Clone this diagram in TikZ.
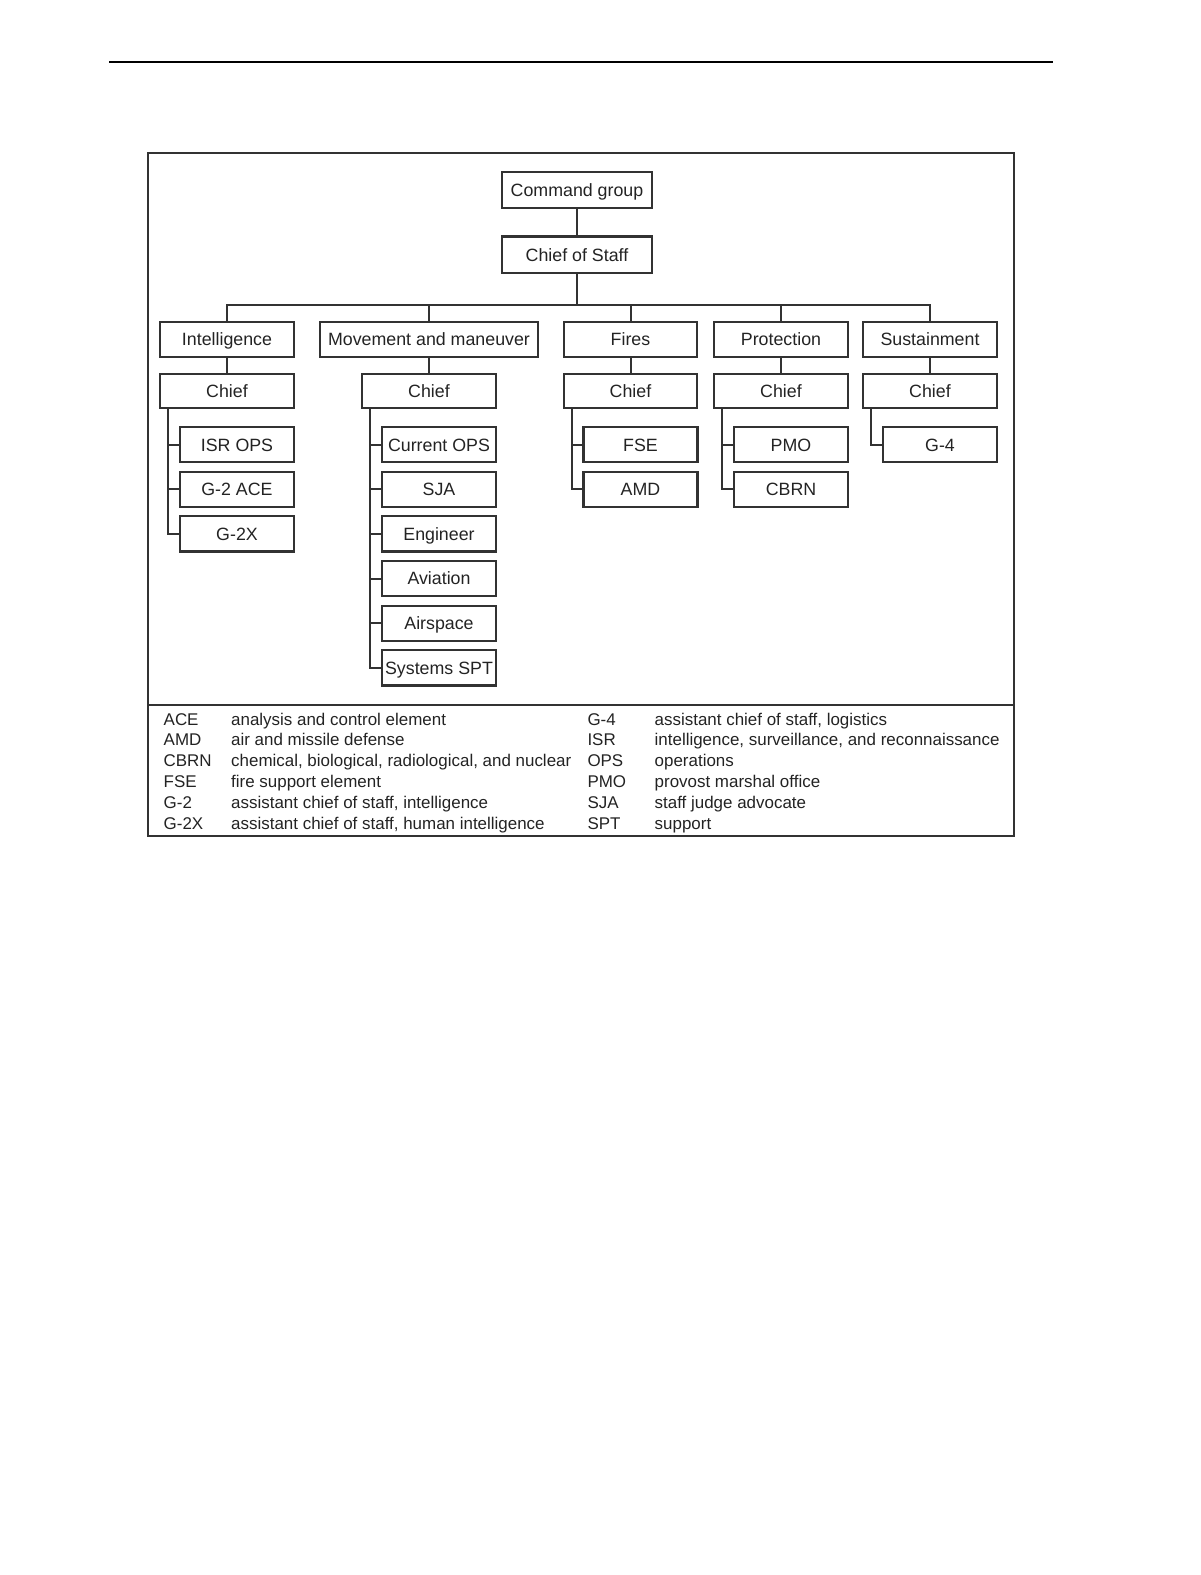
\documentclass[tikz,border=0pt]{standalone}
\usepackage{fontspec}
\setmainfont{Liberation Sans}
\usetikzlibrary{positioning}
\definecolor{boxline}{RGB}{50,50,50}
\definecolor{boxtext}{RGB}{35,35,35}

\begin{document}
\begin{tikzpicture}[x=1pt,y=-1pt,
  every node/.style={font=\fontsize{17.8}{20}\selectfont,text=boxtext},
  unit/.style={draw=boxline,line width=2.2pt,inner sep=0pt,outer sep=0pt,
    text height=12.8pt,text depth=0pt,
    minimum width=133.5pt,minimum height=34.6pt},
  sub/.style={unit,minimum width=114pt,minimum height=35.2pt},
  link/.style={draw=boxline,line width=2pt},
  abbr/.style={anchor=base west,inner sep=0pt,font=\fontsize{16.95}{20}\selectfont}]
  \useasboundingbox (0,0) rectangle (1200,1575);

  % Page rule and frame
  \draw[line width=2pt] (109,62) -- (1053,62);
  \draw[boxline,line width=2pt] (148.3,152.7) rectangle (1013.5,835.7);
  \draw[boxline,line width=2pt] (148.3,705) -- (1013.5,705);

  % Top of the chart
  \node[unit,minimum width=150.4pt,minimum height=36.4pt] (cmd) at (577,190) {Command group};
  \node[unit,minimum width=150.4pt,minimum height=36.6pt] (cos) at (577,254.8) {Chief of Staff};
  \coordinate (bus) at (577,305);
  \draw[link] (cmd) -- (cos);
  \draw[link] (cos) -- (bus);

  % Cells and their chiefs
  \foreach \n/\x/\w/\t in {intel/227/133.5/Intelligence, mvmt/429/218/Movement and maneuver,
      fires/630.5/133.5/Fires, prot/781/133.5/Protection, sust/930/133.5/Sustainment} {
    \node[unit,minimum width=\w pt] (\n) at (\x,339.4) {\t};
    \node[unit] (\n-c) at (\x,391) {Chief};
    \draw[link] (\n.north) |- (bus);
    \draw[link] (\n) -- (\n-c);
  }

  % Sections under each chief
  \foreach \n/\x/\items in {intel/227/{ISR OPS,G-2 ACE,G-2X},
      mvmt/429/{Current OPS,SJA,Engineer,Aviation,Airspace,Systems SPT},
      fires/630.5/{FSE,AMD}, prot/781/{PMO,CBRN}, sust/930/{G-4}} {
    \foreach \t [count=\k] in \items {
      \node[sub] (\n-\k) at (\x+10,399.95+44.65*\k) {\t};
      \draw[link] ([xshift=-59pt]\n-c.south) |- (\n-\k.west);
    }
  }

  % Legend
  \foreach \a/\d [count=\k] in {ACE/analysis and control element,
      AMD/air and missile defense,
      CBRN/{chemical, biological, radiological, and nuclear},
      FSE/fire support element,
      G-2/{assistant chief of staff, intelligence},
      G-2X/{assistant chief of staff, human intelligence}} {
    \node[abbr] (la\k) at (163.5,704.3+20.8*\k) {\a};
    \node[abbr] (ld\k) at (231,704.3+20.8*\k) {\d};
  }
  \foreach \a/\d [count=\k] in {G-4/{assistant chief of staff, logistics},
      ISR/{intelligence, surveillance, and reconnaissance},
      OPS/operations,
      PMO/provost marshal office,
      SJA/staff judge advocate,
      SPT/support} {
    \node[abbr] (ra\k) at (587.3,704.3+20.8*\k) {\a};
    \node[abbr] (rd\k) at (654.5,704.3+20.8*\k) {\d};
  }
\end{tikzpicture}
\end{document}
